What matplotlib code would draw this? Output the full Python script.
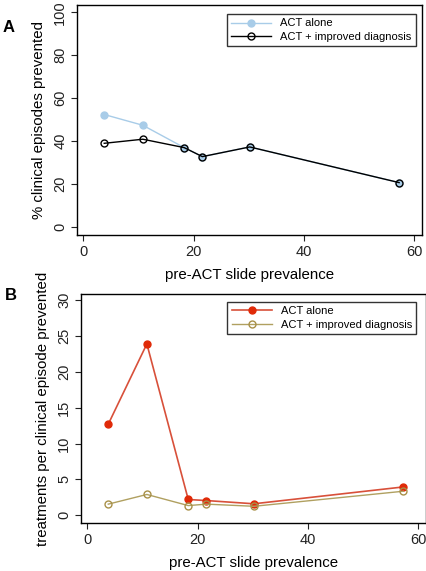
import numpy as np
import matplotlib
matplotlib.use("Agg")
import matplotlib.pyplot as plt

plt.rcParams["font.family"] = ["Liberation Sans", "DejaVu Sans"]

prevalence = [3.8, 10.8, 18.3, 21.6, 30.2, 57.3]

# panel A: % clinical episodes prevented
pct_act_alone = [52.4, 47.4, 37.0, 32.8, 37.3, 20.7]
pct_act_diag = [39.0, 40.9, 37.0, 32.8, 37.3, 20.7]

# panel B: treatments per clinical episode prevented
trt_act_alone = [12.7, 23.9, 2.2, 2.05, 1.6, 3.95]
trt_act_diag = [1.55, 2.9, 1.35, 1.55, 1.25, 3.35]

series_labels = ["ACT alone", "ACT + improved diagnosis"]
xticks = [0, 20, 40, 60]
yticks_a = [0, 20, 40, 60, 80, 100]
yticks_b = [0, 5, 10, 15, 20, 25, 30]

W, H = 427, 571
fig = plt.figure(figsize=(W / 100, H / 100), dpi=100)


def px_axes(l, t, r, b):
    return fig.add_axes([l / W, 1 - b / H, (r - l) / W, (b - t) / H])


def style(ax):
    for s in ax.spines.values():
        s.set_linewidth(1.0)
        s.set_color("black")
    ax.tick_params(axis="both", direction="out", length=4, width=0.8,
                   labelsize=10.5, colors="#222222", pad=3)
    ax.tick_params(axis="y", labelrotation=90)
    for lab in ax.get_yticklabels():
        lab.set_va("center")


# ---- panel A
axA = px_axes(77, 5, 422, 235)
axA.plot(prevalence, pct_act_alone, color="#a8cce8", lw=1.0, marker="o",
         ms=5, mfc="#a8cce8", mec="#a8cce8", label=series_labels[0])
axA.plot(prevalence, pct_act_diag, color="black", lw=1.0, marker="o",
         ms=5, mfc="none", mec="black", mew=1.0, label=series_labels[1])
axA.set_xlim(-1.14, 61.45)
axA.set_ylim(-3.7, 103.4)
axA.set_xticks(xticks)
axA.set_yticks(yticks_a)
axA.set_xlabel("pre-ACT slide prevalence", fontsize=10.8, labelpad=7)
axA.set_ylabel("% clinical episodes prevented", fontsize=10.8, labelpad=5)
style(axA)
legA = axA.legend(loc="upper right", fontsize=8, frameon=True, fancybox=False,
                  edgecolor="black", borderpad=0.4, handlelength=3.6,
                  bbox_to_anchor=(0.998, 0.985), labelspacing=0.3)
legA.get_frame().set_linewidth(1.0)
fig.text(3 / W, 1 - 28 / H, "A", fontsize=12, fontweight="bold", va="center")

# ---- panel B
axB = px_axes(81, 294, 426, 523)
axB.plot(prevalence, trt_act_alone, color="#d8503a", lw=1.2, marker="o",
         ms=5, mfc="#e02a08", mec="#e02a08", label=series_labels[0])
axB.plot(prevalence, trt_act_diag, color="#b0a060", lw=1.0, marker="o",
         ms=5, mfc="none", mec="#a89048", mew=1.0, label=series_labels[1])
axB.set_xlim(-1.14, 61.4)
axB.set_ylim(-1.08, 30.86)
axB.set_xticks(xticks)
axB.set_yticks(yticks_b)
axB.set_xlabel("pre-ACT slide prevalence", fontsize=10.8, labelpad=7)
axB.set_ylabel("treatments per clinical episode prevented", fontsize=10.8, labelpad=5)
style(axB)
legB = axB.legend(loc="upper right", fontsize=8, frameon=True, fancybox=False,
                  edgecolor="black", borderpad=0.4, handlelength=3.6,
                  bbox_to_anchor=(0.988, 0.99), labelspacing=0.3)
legB.get_frame().set_linewidth(1.0)
fig.text(5 / W, 1 - 295 / H, "B", fontsize=12, fontweight="bold", va="center")

fig.savefig("out.png", dpi=100)
